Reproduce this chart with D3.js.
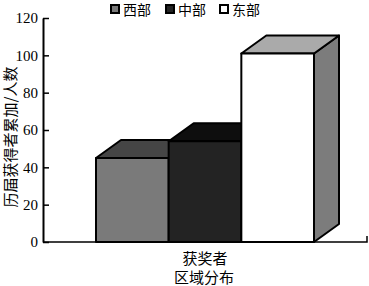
<!DOCTYPE html>
<html>
<head>
<meta charset="utf-8">
<script src="https://cdn.jsdelivr.net/npm/d3@7"></script>
<style>
  body { margin: 0; background: #fff; }
  text { fill: #000; }
</style>
</head>
<body>
<script>
// données
const regions = ["西部", "中部", "东部"];
const values = [45, 54, 101];
const frontColors = ["#7a7a7a", "#232323", "#ffffff"];
const topColors = ["#454545", "#0e0e0e", "#aaaaaa"];
const sideColors = ["#454545", "#0e0e0e", "#7c7c7c"];
const yTicks = [0, 20, 40, 60, 80, 100, 120];
const yTitle = "历届获得者累加/人数";
const xLabels = ["获奖者", "区域分布"];

const W = 369, H = 286;
const depthX = 25, depthY = 18;

const svg = d3.select("body").append("svg")
  .attr("width", W).attr("height", H);

const y = d3.scaleLinear().domain([0, 120]).range([242, 18]);
const x = d3.scaleBand().domain(regions).range([96, 314]).padding(0);

// barres 3D
const bars = svg.append("g")
  .attr("stroke", "#000").attr("stroke-width", 2).attr("stroke-linejoin", "round");

regions.forEach((r, i) => {
  const x0 = x(r), x1 = x(r) + x.bandwidth();
  const y0 = y(0), y1 = y(values[i]);
  // côté
  bars.append("path")
    .attr("d", `M${x1},${y0} L${x1 + depthX},${y0 - depthY} L${x1 + depthX},${y1 - depthY} L${x1},${y1} Z`)
    .attr("fill", sideColors[i]);
  // dessus
  bars.append("path")
    .attr("d", `M${x0},${y1} L${x0 + depthX},${y1 - depthY} L${x1 + depthX},${y1 - depthY} L${x1},${y1} Z`)
    .attr("fill", topColors[i]);
  // face
  bars.append("rect")
    .attr("x", x0).attr("y", y1)
    .attr("width", x.bandwidth()).attr("height", y0 - y1)
    .attr("fill", frontColors[i]);
});

// axe Y
const yAxis = svg.append("g")
  .attr("transform", "translate(43,0)")
  .call(d3.axisLeft(y).tickValues(yTicks).tickSizeInner(-6).tickSizeOuter(0).tickPadding(5));
yAxis.select(".domain").attr("stroke", "#000").attr("stroke-width", 2);
yAxis.selectAll(".tick line").attr("stroke", "#000").attr("stroke-width", 1.5);
yAxis.selectAll("text")
  .style("font-family", "'Liberation Serif', serif")
  .style("font-size", "15px");

// ligne de base
svg.append("path")
  .attr("d", `M43,${y(0)} L367,${y(0)} L367,${y(0) - 6}`)
  .attr("fill", "none").attr("stroke", "#000").attr("stroke-width", 1.5);

// titre Y
svg.append("text")
  .attr("transform", "translate(16,137) rotate(-90)")
  .attr("text-anchor", "middle")
  .style("font-family", "'Noto Sans CJK SC', sans-serif")
  .style("font-size", "15px")
  .text(yTitle);

// étiquettes X
svg.append("text").attr("x", 205).attr("y", 264)
  .attr("text-anchor", "middle")
  .style("font-family", "'Noto Sans CJK SC', sans-serif").style("font-size", "15px")
  .text(xLabels[0]);
svg.append("text").attr("x", 204).attr("y", 283)
  .attr("text-anchor", "middle")
  .style("font-family", "'Noto Sans CJK SC', sans-serif").style("font-size", "15px")
  .text(xLabels[1]);

// légende
const legendX = [110, 165, 219];
const legend = svg.append("g");
regions.forEach((r, i) => {
  legend.append("rect")
    .attr("x", legendX[i] + 1).attr("y", 5)
    .attr("width", 8).attr("height", 8)
    .attr("fill", frontColors[i]).attr("stroke", "#000").attr("stroke-width", 2);
  legend.append("text")
    .attr("x", legendX[i] + 13).attr("y", 15)
    .style("font-family", "'Noto Sans CJK SC', sans-serif").style("font-size", "14px")
    .text(r);
});
</script>
</body>
</html>
